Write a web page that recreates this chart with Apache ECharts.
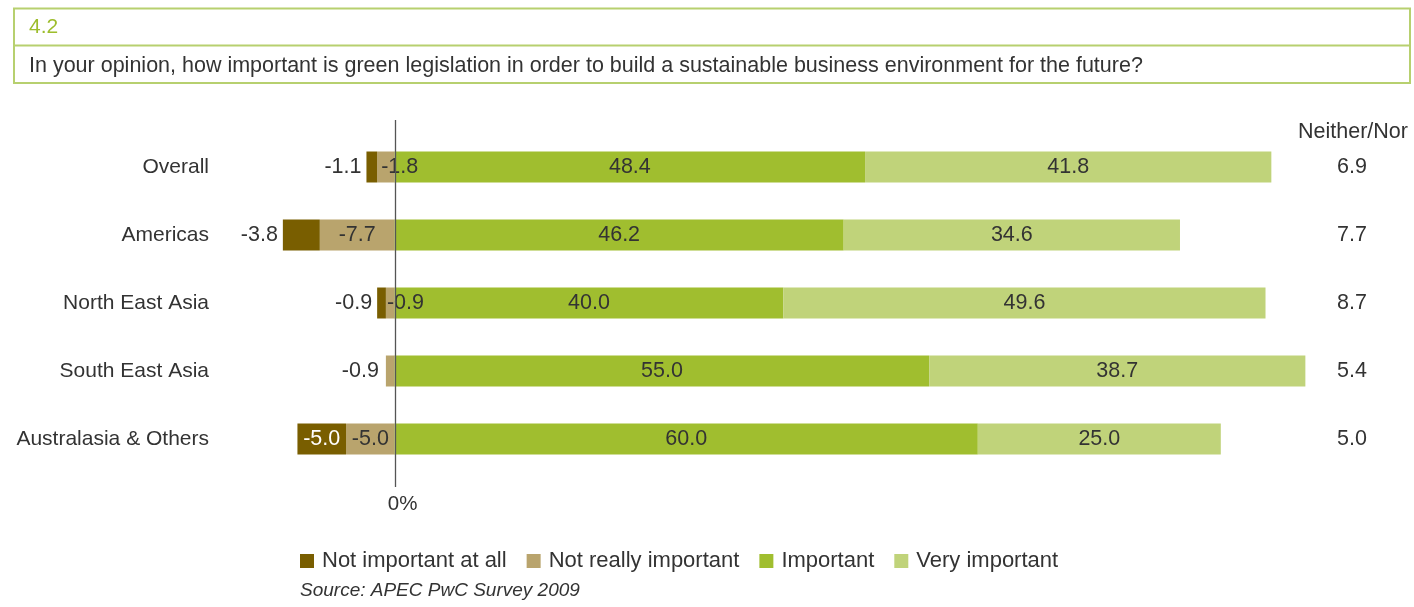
<!DOCTYPE html>
<html>
<head>
<meta charset="utf-8">
<title>Green legislation</title>
<script src="https://cdn.jsdelivr.net/npm/echarts@6/dist/echarts.min.js"></script>
<style>
  html, body { margin: 0; padding: 0; background: #ffffff; }
  #chart { width: 1414px; height: 607px; }
</style>
</head>
<body>
<div id="chart"></div>
<script>
// Survey answers by region (percent); negative values sit left of 0%
const regions = ['Overall', 'Americas', 'North East Asia', 'South East Asia', 'Australasia & Others'];
const notImportantAtAll = [-1.1, -3.8, -0.9, null, -5.0];
const notReallyImportant = [-1.8, -7.7, -0.9, -0.9, -5.0];
const important = [48.4, 46.2, 40.0, 55.0, 60.0];
const veryImportant = [41.8, 34.6, 49.6, 38.7, 25.0];
const neitherNor = [6.9, 7.7, 8.7, 5.4, 5.0];

const seriesNames = ['Not important at all', 'Not really important', 'Important', 'Very important'];
const colors = {
  notAtAll: '#795e00',
  notReally: '#b9a46d',
  important: '#a0be2f',
  very: '#c0d37a'
};

// label placement for the small negative segments
const notAtAllLabelPos = ['left', 'left', 'left', 'left', 'inside'];
const notAtAllLabelColor = ['#333333', '#333333', '#333333', '#333333', '#ffffff'];
const notReallyLabelPos = ['insideLeft', 'inside', 'insideLeft', 'left', 'inside'];
const notReallyLabelDist = [4, 5, 1, 7, 5];

const FONT = '"Liberation Sans", Arial, Helvetica, sans-serif';
const TEXT = '#333333';
const SIZE = 21.5;

const fmt = p => (p.value === null || p.value === undefined) ? '' : Number(p.value).toFixed(1);

function withLabels(values, pos, color, dist) {
  return values.map((v, i) => ({
    value: v,
    label: {
      position: pos[i],
      color: color ? color[i] : TEXT,
      distance: dist ? dist[i] : 5
    }
  }));
}

const chart = echarts.init(document.getElementById('chart'), null, { renderer: 'canvas' });

const baseLabel = { show: true, fontFamily: FONT, fontSize: SIZE, color: TEXT, formatter: fmt };

const option = {
  animation: false,
  textStyle: { fontFamily: FONT },
  grid: { left: 278, right: 96, top: 133, height: 340, containLabel: false },
  legend: {
    left: 295,
    top: 545,
    icon: 'rect',
    itemWidth: 14,
    itemHeight: 14,
    itemGap: 20,
    data: seriesNames,
    textStyle: { fontFamily: FONT, fontSize: 22, color: TEXT, padding: [0, 0, 0, 3] }
  },
  xAxis: {
    type: 'value',
    min: -12,
    max: 95,
    interval: 12,
    axisLine: { show: false },
    axisTick: { show: false },
    splitLine: { show: false },
    axisLabel: {
      margin: 21,
      fontFamily: FONT,
      fontSize: 20.5,
      color: TEXT,
      padding: [0, 0, 0, 16],
      formatter: v => (v === 0 ? '0%' : '')
    }
  },
  yAxis: [
    {
      type: 'category',
      data: regions,
      inverse: true,
      axisLine: { show: false, onZero: false },
      axisTick: { show: false },
      axisLabel: { margin: 69, fontFamily: FONT, fontSize: 21, color: TEXT, padding: [3, 0, 0, 0] }
    },
    {
      type: 'category',
      data: regions,
      inverse: true,
      position: 'right',
      axisLine: { show: false, onZero: false },
      axisTick: { show: false },
      axisLabel: {
        margin: 19,
        fontFamily: FONT,
        fontSize: SIZE,
        color: TEXT,
        padding: [3, 0, 0, 0],
        formatter: (v, i) => neitherNor[i].toFixed(1)
      }
    }
  ],
  series: [
    {
      name: 'Not really important',
      type: 'bar',
      stack: 'total',
      barWidth: 31,
      itemStyle: { color: colors.notReally },
      label: baseLabel,
      data: withLabels(notReallyImportant, notReallyLabelPos, null, notReallyLabelDist)
    },
    {
      name: 'Not important at all',
      type: 'bar',
      stack: 'total',
      barWidth: 31,
      itemStyle: { color: colors.notAtAll },
      label: baseLabel,
      data: withLabels(notImportantAtAll, notAtAllLabelPos, notAtAllLabelColor)
    },
    {
      name: 'Important',
      type: 'bar',
      stack: 'total',
      barWidth: 31,
      itemStyle: { color: colors.important },
      label: Object.assign({}, baseLabel, { position: 'inside' }),
      data: important
    },
    {
      name: 'Very important',
      type: 'bar',
      stack: 'total',
      barWidth: 31,
      itemStyle: { color: colors.very },
      label: Object.assign({}, baseLabel, { position: 'inside' }),
      data: veryImportant
    }
  ]
};

chart.setOption(option);

// header box, column heading and the 0% reference line
const zeroX = Math.round(chart.convertToPixel({ xAxisIndex: 0 }, 0)) + 0.5;
const rightColX = chart.convertToPixel({ xAxisIndex: 0 }, 95) + 35;
const BORDER = '#b7d06f';

chart.setOption({
  graphic: [
    {
      type: 'rect',
      shape: { x: 14, y: 8.5, width: 1396, height: 74.5 },
      style: { fill: 'none', stroke: BORDER, lineWidth: 2 },
      silent: true
    },
    {
      type: 'line',
      shape: { x1: 14, y1: 45.5, x2: 1410, y2: 45.5 },
      style: { stroke: BORDER, lineWidth: 2 },
      silent: true
    },
    {
      type: 'text',
      x: 29, y: 27,
      style: { text: '4.2', fill: '#9dbd2c', font: '21px ' + FONT, textVerticalAlign: 'middle' },
      silent: true
    },
    {
      type: 'text',
      x: 29, y: 66,
      style: {
        text: 'In your opinion, how important is green legislation in order to build a sustainable business environment for the future?',
        fill: TEXT, font: '21.5px ' + FONT, textVerticalAlign: 'middle'
      },
      silent: true
    },
    {
      type: 'text',
      x: rightColX, y: 132,
      style: { text: 'Neither/Nor', fill: TEXT, font: '21.5px ' + FONT, textAlign: 'center', textVerticalAlign: 'middle' },
      silent: true
    },
    {
      type: 'line',
      z: 100,
      shape: { x1: zeroX, y1: 120, x2: zeroX, y2: 487 },
      style: { stroke: '#555555', lineWidth: 1.3 },
      silent: true
    },
    {
      type: 'text',
      x: 300, y: 591,
      style: { text: 'Source: APEC PwC Survey 2009', fill: TEXT, font: 'italic 19px ' + FONT, textVerticalAlign: 'middle' },
      silent: true
    }
  ]
});
</script>
</body>
</html>
